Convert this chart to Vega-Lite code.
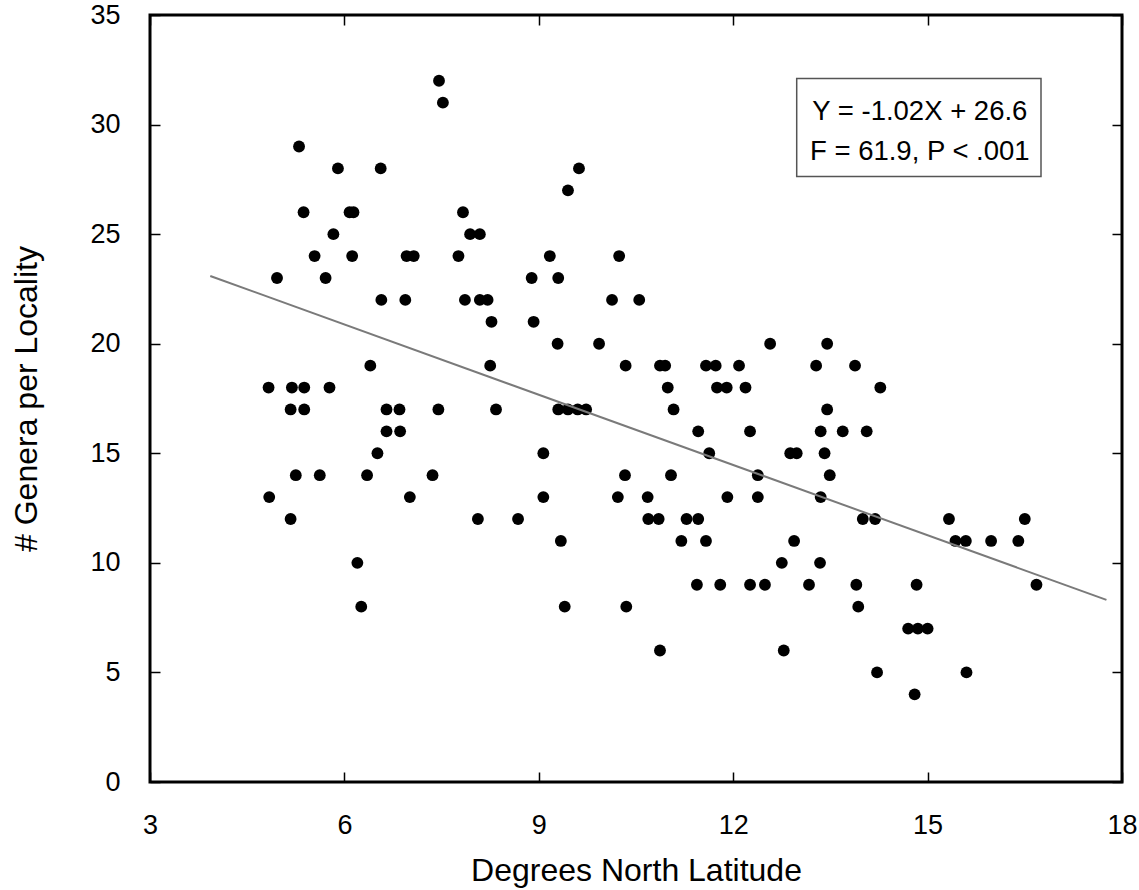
{
  "$schema": "https://vega.github.io/schema/vega-lite/v6.json",
  "usermeta": {"embedOptions": {"actions": false}},
  "width": 972,
  "height": 767,
  "autosize": {"type": "none"},
  "padding": {"left": 150, "top": 15, "right": 17, "bottom": 108},
  "background": "white",
  "config": {
    "view": {"stroke": "black", "strokeWidth": 3},
    "axis": {
      "labelFont": "Liberation Sans",
      "titleFont": "Liberation Sans",
      "labelFontSize": 27,
      "titleFontSize": 32,
      "labelColor": "black",
      "titleColor": "black",
      "titleFontWeight": "normal",
      "grid": false,
      "domain": false,
      "tickColor": "black",
      "tickSize": -10,
      "tickWidth": 1.5,
      "labelPadding": 40,
      "labelFlush": false,
      "labelOverlap": false,
      "labelBound": false
    }
  },
  "data": {
    "values": [
      {"lat": 7.46, "genera": 32}, {"lat": 7.52, "genera": 31}, {"lat": 5.30, "genera": 29},
      {"lat": 5.90, "genera": 28}, {"lat": 6.56, "genera": 28}, {"lat": 5.37, "genera": 26},
      {"lat": 6.08, "genera": 26}, {"lat": 6.14, "genera": 26}, {"lat": 7.83, "genera": 26},
      {"lat": 5.83, "genera": 25}, {"lat": 7.94, "genera": 25}, {"lat": 8.09, "genera": 25},
      {"lat": 5.54, "genera": 24}, {"lat": 6.12, "genera": 24}, {"lat": 6.96, "genera": 24},
      {"lat": 7.07, "genera": 24}, {"lat": 7.76, "genera": 24}, {"lat": 4.96, "genera": 23},
      {"lat": 5.71, "genera": 23}, {"lat": 8.89, "genera": 23}, {"lat": 6.57, "genera": 22},
      {"lat": 6.94, "genera": 22}, {"lat": 7.86, "genera": 22}, {"lat": 8.09, "genera": 22},
      {"lat": 8.21, "genera": 22}, {"lat": 8.27, "genera": 21}, {"lat": 8.92, "genera": 21},
      {"lat": 6.40, "genera": 19}, {"lat": 8.25, "genera": 19}, {"lat": 4.83, "genera": 18},
      {"lat": 5.19, "genera": 18}, {"lat": 5.38, "genera": 18}, {"lat": 5.77, "genera": 18},
      {"lat": 5.17, "genera": 17}, {"lat": 5.38, "genera": 17}, {"lat": 6.65, "genera": 17},
      {"lat": 6.85, "genera": 17}, {"lat": 7.45, "genera": 17}, {"lat": 8.34, "genera": 17},
      {"lat": 6.65, "genera": 16}, {"lat": 6.86, "genera": 16}, {"lat": 6.51, "genera": 15},
      {"lat": 9.07, "genera": 15}, {"lat": 5.25, "genera": 14}, {"lat": 5.62, "genera": 14},
      {"lat": 6.35, "genera": 14}, {"lat": 7.36, "genera": 14}, {"lat": 4.84, "genera": 13},
      {"lat": 7.01, "genera": 13}, {"lat": 9.07, "genera": 13}, {"lat": 5.17, "genera": 12},
      {"lat": 8.06, "genera": 12}, {"lat": 8.68, "genera": 12}, {"lat": 6.20, "genera": 10},
      {"lat": 6.26, "genera": 8},
      {"lat": 9.62, "genera": 28}, {"lat": 9.45, "genera": 27}, {"lat": 9.17, "genera": 24},
      {"lat": 10.24, "genera": 24}, {"lat": 9.30, "genera": 23}, {"lat": 10.13, "genera": 22},
      {"lat": 10.55, "genera": 22}, {"lat": 9.29, "genera": 20}, {"lat": 9.93, "genera": 20},
      {"lat": 12.57, "genera": 20}, {"lat": 13.45, "genera": 20}, {"lat": 10.34, "genera": 19},
      {"lat": 10.87, "genera": 19}, {"lat": 10.95, "genera": 19}, {"lat": 11.58, "genera": 19},
      {"lat": 11.73, "genera": 19}, {"lat": 12.09, "genera": 19}, {"lat": 13.28, "genera": 19},
      {"lat": 13.88, "genera": 19}, {"lat": 10.99, "genera": 18}, {"lat": 11.75, "genera": 18},
      {"lat": 11.90, "genera": 18}, {"lat": 12.19, "genera": 18}, {"lat": 14.27, "genera": 18},
      {"lat": 9.30, "genera": 17}, {"lat": 9.45, "genera": 17}, {"lat": 9.60, "genera": 17},
      {"lat": 9.73, "genera": 17}, {"lat": 11.08, "genera": 17}, {"lat": 13.45, "genera": 17},
      {"lat": 11.46, "genera": 16}, {"lat": 12.26, "genera": 16}, {"lat": 13.35, "genera": 16},
      {"lat": 13.69, "genera": 16}, {"lat": 14.06, "genera": 16}, {"lat": 11.63, "genera": 15},
      {"lat": 12.88, "genera": 15}, {"lat": 12.98, "genera": 15}, {"lat": 13.41, "genera": 15},
      {"lat": 10.33, "genera": 14}, {"lat": 11.04, "genera": 14}, {"lat": 12.38, "genera": 14},
      {"lat": 13.49, "genera": 14}, {"lat": 10.22, "genera": 13}, {"lat": 10.68, "genera": 13},
      {"lat": 11.91, "genera": 13}, {"lat": 12.38, "genera": 13}, {"lat": 13.35, "genera": 13},
      {"lat": 10.69, "genera": 12}, {"lat": 10.85, "genera": 12}, {"lat": 11.28, "genera": 12},
      {"lat": 11.46, "genera": 12}, {"lat": 14.00, "genera": 12}, {"lat": 14.19, "genera": 12},
      {"lat": 9.34, "genera": 11}, {"lat": 11.20, "genera": 11}, {"lat": 11.58, "genera": 11},
      {"lat": 12.94, "genera": 11}, {"lat": 12.75, "genera": 10}, {"lat": 13.34, "genera": 10},
      {"lat": 11.44, "genera": 9}, {"lat": 11.80, "genera": 9}, {"lat": 12.26, "genera": 9},
      {"lat": 12.49, "genera": 9}, {"lat": 13.17, "genera": 9}, {"lat": 13.90, "genera": 9},
      {"lat": 14.83, "genera": 9}, {"lat": 9.40, "genera": 8}, {"lat": 10.35, "genera": 8},
      {"lat": 13.93, "genera": 8}, {"lat": 10.87, "genera": 6}, {"lat": 12.78, "genera": 6},
      {"lat": 14.22, "genera": 5}, {"lat": 14.80, "genera": 4},
      {"lat": 15.33, "genera": 12}, {"lat": 16.50, "genera": 12}, {"lat": 15.43, "genera": 11},
      {"lat": 15.59, "genera": 11}, {"lat": 15.98, "genera": 11}, {"lat": 16.40, "genera": 11},
      {"lat": 16.68, "genera": 9}, {"lat": 15.60, "genera": 5}, {"lat": 14.70, "genera": 7},
      {"lat": 14.85, "genera": 7}, {"lat": 15.00, "genera": 7}
    ]
  },
  "layer": [
    {
      "mark": {"type": "circle", "size": 140, "color": "black", "opacity": 1},
      "encoding": {
        "x": {
          "field": "lat", "type": "quantitative",
          "scale": {"domain": [3, 18], "nice": false, "zero": false},
          "axis": {"orient": "bottom", "values": [3, 6, 9, 12, 15, 18], "title": "Degrees North Latitude", "titlePadding": 17}
        },
        "y": {
          "field": "genera", "type": "quantitative",
          "scale": {"domain": [0, 35], "nice": false, "zero": false},
          "axis": {"orient": "left", "values": [0, 5, 10, 15, 20, 25, 30, 35], "title": "# Genera per Locality", "titlePadding": 46}
        }
      }
    },
    {
      "data": {"values": [{"lat": 3.93, "genera": 23.09}, {"lat": 17.76, "genera": 8.31}]},
      "mark": {"type": "line", "color": "#7a7a7a", "strokeWidth": 2},
      "encoding": {
        "x": {"field": "lat", "type": "quantitative", "axis": {"orient": "top", "values": [3, 6, 9, 12, 15, 18], "labels": false, "title": null}},
        "y": {"field": "genera", "type": "quantitative", "axis": {"orient": "right", "values": [0, 5, 10, 15, 20, 25, 30, 35], "labels": false, "title": null}}
      }
    },
    {
      "data": {"values": [{}]},
      "mark": {"type": "rect", "fill": "white", "stroke": "#555555", "strokeWidth": 1.5},
      "encoding": {
        "x": {"datum": 12.98, "type": "quantitative", "axis": null},
        "x2": {"datum": 16.75},
        "y": {"datum": 32.1, "type": "quantitative", "axis": null},
        "y2": {"datum": 27.63}
      }
    },
    {
      "data": {"values": [{}]},
      "mark": {"type": "text", "text": "Y = -1.02X + 26.6", "font": "Liberation Sans", "fontSize": 27.5, "color": "black", "align": "center", "baseline": "alphabetic"},
      "encoding": {
        "x": {"datum": 14.88, "type": "quantitative", "axis": null},
        "y": {"datum": 30.23, "type": "quantitative", "axis": null}
      }
    },
    {
      "data": {"values": [{}]},
      "mark": {"type": "text", "text": "F = 61.9, P < .001", "font": "Liberation Sans", "fontSize": 27.5, "color": "black", "align": "center", "baseline": "alphabetic"},
      "encoding": {
        "x": {"datum": 14.88, "type": "quantitative", "axis": null},
        "y": {"datum": 28.4, "type": "quantitative", "axis": null}
      }
    }
  ],
  "resolve": {"axis": {"x": "independent", "y": "independent"}}
}
